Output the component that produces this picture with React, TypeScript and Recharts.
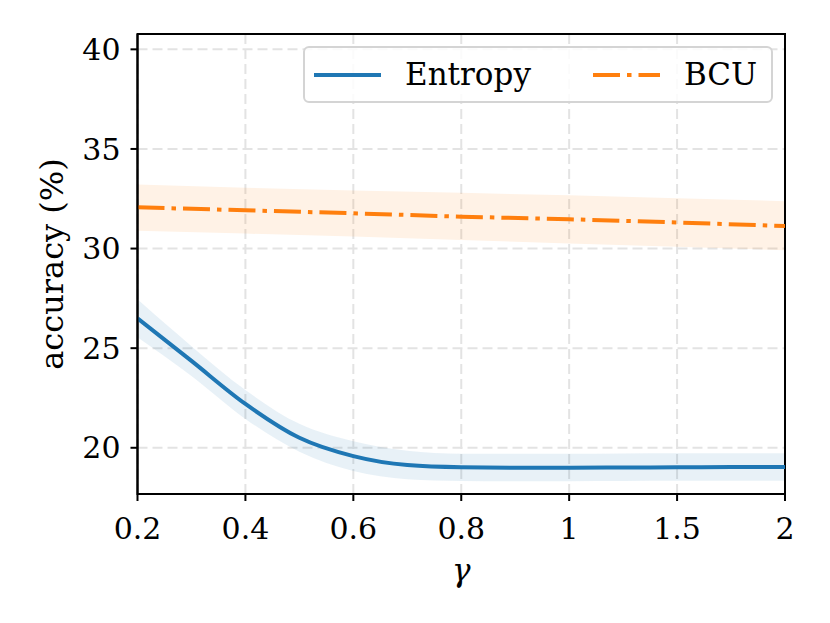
import React from 'react';
import { ComposedChart, Line, Area, XAxis, YAxis, CartesianGrid, Legend, ReferenceArea } from 'recharts';

const gammaLabels = ['0.2', '0.4', '0.6', '0.8', '1', '1.5', '2'];
const tickPositions = [0, 1, 2, 3, 4, 5, 6];
const yTicks = [20, 25, 30, 35, 40];
const seriesOrder = ['Entropy', 'BCU'];

const entropyPos = [0, 0.5, 1, 1.5, 2, 2.5, 3, 3.5, 4, 4.5, 5, 5.5, 6];
const entropyMean = [26.5, 24.36, 22.2, 20.5, 19.58, 19.13, 19.02, 19.0, 19.0, 19.01, 19.02, 19.03, 19.03];
const entropyLow = [25.55, 23.6, 21.45, 19.8, 18.83, 18.42, 18.33, 18.32, 18.32, 18.33, 18.34, 18.34, 18.34];
const entropyHigh = [27.45, 25.1, 22.9, 21.2, 20.33, 19.85, 19.7, 19.7, 19.7, 19.71, 19.72, 19.72, 19.72];

const bcuPos = [0, 1, 2, 3, 4, 5, 6];
const bcuMean = [32.07, 31.92, 31.77, 31.6, 31.47, 31.31, 31.13];
const bcuLow = [30.9, 30.75, 30.6, 30.43, 30.26, 30.09, 29.92];
const bcuHigh = [33.22, 33.05, 32.92, 32.8, 32.67, 32.52, 32.38];

const entropyData = entropyPos.map((x, i) => ({ x, mean: entropyMean[i], band: [entropyLow[i], entropyHigh[i]] }));
const bcuData = bcuPos.map((x, i) => ({ x, mean: bcuMean[i], band: [bcuLow[i], bcuHigh[i]] }));

const X_DOMAIN: [number, number] = [0, 6];
const Y_DOMAIN: [number, number] = [17.68, 40.77];

const BLUE = '#1f77b4';
const ORANGE = '#ff7f0e';
const FONT = '"DejaVu Serif", serif';
const BCU_DASH = '27 7 4.5 7';

const tickStyle = { fontSize: 30, fontFamily: FONT, fill: '#000' };

const renderLegend = (props: any) => {
  const items = (props.payload || [])
    .filter((p: any) => p.type !== 'none')
    .sort((a: any, b: any) => seriesOrder.indexOf(a.value) - seriesOrder.indexOf(b.value));
  return (
    <div
      style={{
        boxSizing: 'border-box',
        width: 470,
        height: 57,
        border: '2px solid #d4d4d4',
        borderRadius: 6,
        background: 'rgba(255,255,255,0.85)',
        display: 'flex',
        alignItems: 'center',
        fontFamily: FONT,
        fontSize: 31,
        color: '#000',
      }}
    >
      {items.map((p: any, i: number) => (
        <div key={i} style={{ display: 'flex', alignItems: 'center', marginLeft: i === 0 ? 9 : 62 }}>
          <svg width={67} height={10} style={{ display: 'block' }}>
            <line
              x1={0}
              y1={5}
              x2={67}
              y2={5}
              stroke={p.color}
              strokeWidth={4}
              strokeDasharray={p.value === 'BCU' ? BCU_DASH : undefined}
            />
          </svg>
          <span style={{ marginLeft: 24, lineHeight: '31px' }}>{p.value}</span>
        </div>
      ))}
    </div>
  );
};

export default function App() {
  return (
    <div style={{ position: 'absolute', left: 0, top: 0, width: 830, height: 623, background: '#fff', fontFamily: FONT }}>
      <ComposedChart width={830} height={623} margin={{ top: 34, right: 45, bottom: 0, left: 0 }}>
        <CartesianGrid stroke="#e3e3e3" strokeDasharray="10 5" strokeWidth={2} />
        <XAxis
          dataKey="x"
          type="number"
          domain={X_DOMAIN}
          ticks={tickPositions}
          tickFormatter={(v: number) => gammaLabels[v]}
          allowDataOverflow
          height={129}
          tickSize={7}
          tickMargin={17}
          tick={tickStyle}
          axisLine={{ stroke: '#000', strokeWidth: 2 }}
          tickLine={{ stroke: '#000', strokeWidth: 2 }}
          label={{
            content: (lp: any) => {
              const vb = lp.viewBox;
              return (
                <text x={vb.x + vb.width / 2} y={vb.y + 87} textAnchor="middle" fontFamily={FONT} fontStyle="italic" fontSize={31} fill="#000">
                  γ
                </text>
              );
            },
          }}
        />
        <YAxis
          type="number"
          domain={Y_DOMAIN}
          ticks={yTicks}
          allowDataOverflow
          width={137.5}
          tickSize={7}
          tickMargin={10}
          tick={tickStyle}
          axisLine={{ stroke: '#000', strokeWidth: 2 }}
          tickLine={{ stroke: '#000', strokeWidth: 2 }}
          label={{
            content: (lp: any) => {
              const vb = lp.viewBox;
              const cx = vb.x + 52;
              const cy = vb.y + vb.height / 2;
              return (
                <text x={cx} y={cy} transform={`rotate(-90 ${cx} ${cy})`} textAnchor="middle" dominantBaseline="central" fontFamily={FONT} fontSize={32} fill="#000">
                  accuracy (%)
                </text>
              );
            },
          }}
        />
        <Area data={bcuData} dataKey="band" type="linear" stroke="none" fill={ORANGE} fillOpacity={0.1} isAnimationActive={false} legendType="none" />
        <Area data={entropyData} dataKey="band" type="monotone" stroke="none" fill={BLUE} fillOpacity={0.1} isAnimationActive={false} legendType="none" />
        <Line data={entropyData} dataKey="mean" name="Entropy" type="monotone" stroke={BLUE} strokeWidth={4} dot={false} isAnimationActive={false} />
        <Line data={bcuData} dataKey="mean" name="BCU" type="linear" stroke={ORANGE} strokeWidth={4} strokeDasharray={BCU_DASH} dot={false} isAnimationActive={false} />
        <ReferenceArea
          x1={X_DOMAIN[0]}
          x2={X_DOMAIN[1]}
          y1={Y_DOMAIN[0]}
          y2={Y_DOMAIN[1]}
          fill="none"
          fillOpacity={0}
          stroke="#000"
          strokeWidth={2}
          ifOverflow="visible"
        />
        <Legend
          content={renderLegend}
          layout="horizontal"
          verticalAlign="middle"
          align="center"
          wrapperStyle={{ position: 'absolute', top: 46, left: 303, width: 470, height: 57, bottom: 'auto', right: 'auto' }}
        />
      </ComposedChart>
    </div>
  );
}
